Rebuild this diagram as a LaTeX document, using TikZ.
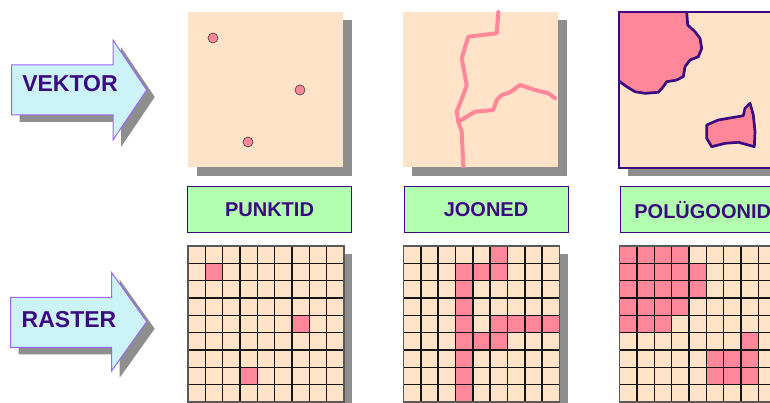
\documentclass[tikz,border=0pt]{standalone}
\usepackage{fontspec}
\setmainfont{Liberation Sans}
\definecolor{peach}{HTML}{FFE3C8}
\definecolor{pinkc}{HTML}{FF8799}
\definecolor{shadowc}{HTML}{8E8E8E}
\definecolor{labelg}{HTML}{B3FFB0}
\definecolor{indigo}{HTML}{3C0A80}
\definecolor{arrowfill}{HTML}{CCF4F8}
\definecolor{arrowline}{HTML}{9966FF}
\newcommand\rastergrid[3]{%
  \begin{scope}[shift={(#1,#2)}]
    \fill[shadowc] (8,8) rectangle (164,164);
    \fill[peach] (0,0) rectangle (156,156);
    \foreach \c/\r in {#3} \fill[pinkc] (\c*17.333,\r*17.333) rectangle ++(17.333,17.333);
    \foreach \i in {0,...,9} {
      \draw[gridline] (\i*17.333,0) -- (\i*17.333,156);
      \draw[gridline] (0,\i*17.333) -- (156,\i*17.333);
    }
    \draw[line width=1.5pt,draw=black!65] (0,0) rectangle (156,156);
  \end{scope}}
\begin{document}
\begin{tikzpicture}[x=1pt,y=-1pt,
  shadowfill/.style={fill=shadowc,draw=none},
  arrowshape/.style={fill=arrowfill,draw=arrowline,line width=1pt,line join=miter},
  arrowtext/.style={font=\bfseries\fontsize{23}{23}\selectfont,text=indigo,inner sep=0},
  labelbox/.style={draw=indigo,line width=1pt,fill=labelg,minimum width=164pt,minimum height=46pt,inner sep=0,font=\bfseries\fontsize{20}{20}\selectfont,text=indigo},
  gridline/.style={line width=1.5pt,draw=black!92},
  vline/.style={draw=pinkc,line width=4pt,line cap=round,line join=round},
  dot/.style={circle,fill=pinkc,draw=black!70,line width=0.7pt,minimum size=10pt,inner sep=0},
  polyedge/.style={draw=indigo,line width=2.7pt,line join=round}]
\useasboundingbox (0,0) rectangle (770,403);
\clip (0,0) rectangle (770,403);
\fill[white] (0,0) rectangle (770,403);

% ---- arrows ----
\fill[shadowc] (19.7,72) -- (121,72) -- (121,47) -- (154.7,97) -- (121,147) -- (121,122) -- (19.7,122) -- cycle;
\draw[arrowshape] (11.7,65) -- (113,65) -- (113,40) -- (146.7,90) -- (113,140) -- (113,115) -- (11.7,115) -- cycle;
\node[arrowtext] (vektor) at (70,84) {VEKTOR};

\fill[shadowc] (18.7,304.3) -- (119.7,304.3) -- (119.7,279.7) -- (154.7,328.7) -- (119.7,377.7) -- (119.7,354.3) -- (18.7,354.3) -- cycle;
\draw[arrowshape] (10.7,297.3) -- (111.7,297.3) -- (111.7,272.7) -- (146.7,321.7) -- (111.7,370.7) -- (111.7,347.3) -- (10.7,347.3) -- cycle;
\node[arrowtext] (raster) at (69,320) {RASTER};

% ---- vector panel 1: points ----
\fill[shadowc] (197,20) rectangle (352,176);
\fill[peach] (188,12) rectangle (343,167);
\node[dot] (p1) at (213,38) {};
\node[dot] (p2) at (300,90) {};
\node[dot] (p3) at (248,142) {};

% ---- vector panel 2: lines ----
\fill[shadowc] (412,20) rectangle (567,176);
\fill[peach] (403,12) rectangle (558,167);
\draw[vline] (498.3,12) -- (496.7,33.3) -- (468.3,36.7) -- (461.7,58.3) -- (466.7,85) -- (463.3,95) -- (456.7,111.7) -- (458.3,121.7) -- (461.7,131.7) -- (463.3,166);
\draw[vline] (458.3,121.7) -- (475,111.7) -- (493.3,110) -- (496.7,100) -- (501.7,95) -- (510,92.3) -- (520,85) -- (535,90) -- (548.3,93.3) -- (555,98.3);

% ---- vector panel 3: polygons ----
\fill[shadowc] (628,20) rectangle (783,176);
\fill[peach] (619,12) rectangle (774,168);
\fill[pinkc] (619,12) -- (686.7,12) -- (687.7,25) -- (695,31.7) -- (700,38.3) -- (701.7,48.3) -- (698.3,56.7) -- (690,60) -- (685,66.7) -- (683.3,76.7) -- (676.7,80) -- (666.7,81.7) -- (663.3,86.7) -- (658.3,92.3) -- (645,93.3) -- (635,91.7) -- (626.7,86.7) -- (619,81) -- cycle;
\draw[polyedge] (686.7,12) -- (687.7,25) -- (695,31.7) -- (700,38.3) -- (701.7,48.3) -- (698.3,56.7) -- (690,60) -- (685,66.7) -- (683.3,76.7) -- (676.7,80) -- (666.7,81.7) -- (663.3,86.7) -- (658.3,92.3) -- (645,93.3) -- (635,91.7) -- (626.7,86.7) -- (619,81);
\filldraw[polyedge,fill=pinkc] (706.7,125) -- (718.3,120) -- (731.7,117.7) -- (743.3,115.7) -- (745,108.3) -- (750,103.3) -- (753.3,115) -- (755,131.7) -- (754.3,146.7) -- (748.3,145) -- (738.3,142.3) -- (725,143.3) -- (711.7,146.7) -- (706.7,138.3) -- cycle;
\draw[draw=indigo,line width=2.8pt] (619,12) rectangle (774,168);

% ---- labels ----
\node[labelbox] (punktid) at (269.5,209.7) {PUNKTID};
\node[labelbox] (jooned) at (486,209.7) {JOONED};
\node[labelbox] (polygoonid) at (702.7,209.7) {POLÜGOONID};

% ---- raster grids ----
\rastergrid{188}{246}{1/1,6/4,3/7}
\rastergrid{403.5}{246}{5/0,3/1,4/1,5/1,3/2,3/3,3/4,5/4,6/4,7/4,8/4,3/5,4/5,5/5,3/6,3/7,3/8}
\rastergrid{619.7}{246}{0/0,1/0,2/0,3/0,0/1,1/1,2/1,3/1,4/1,0/2,1/2,2/2,3/2,4/2,0/3,1/3,2/3,3/3,0/4,1/4,2/4,7/5,5/6,6/6,7/6,5/7,6/7,7/7}
\end{tikzpicture}
\end{document}
